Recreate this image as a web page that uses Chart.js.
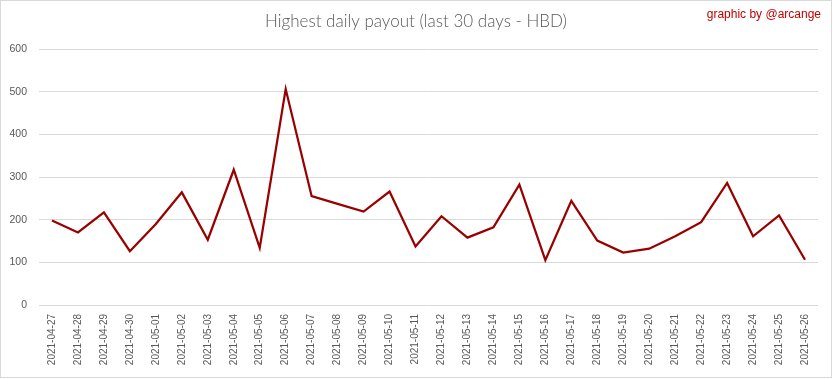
<!DOCTYPE html>
<html>
<head>
<meta charset="utf-8">
<script src="https://cdn.jsdelivr.net/npm/chart.js@4/dist/chart.umd.min.js"></script>
<style>
html,body{margin:0;padding:0;background:#fff;}
#wrap{width:833px;height:379px;position:relative;}
</style>
</head>
<body>
<div id="wrap"><canvas id="c" width="833" height="379"></canvas></div>
<script>
const categories = ["2021-04-27","2021-04-28","2021-04-29","2021-04-30","2021-05-01","2021-05-02","2021-05-03","2021-05-04","2021-05-05","2021-05-06","2021-05-07","2021-05-08","2021-05-09","2021-05-10","2021-05-11","2021-05-12","2021-05-13","2021-05-14","2021-05-15","2021-05-16","2021-05-17","2021-05-18","2021-05-19","2021-05-20","2021-05-21","2021-05-22","2021-05-23","2021-05-24","2021-05-25","2021-05-26"];
const payout = [198,170,217,126,190,264,153,317,134,506,255,237,219,266,137,208,158,182,282,105,244,151,123,132,161,194,286,161,210,106];
const yTicks = [0,100,200,300,400,500,600];
const titleText = "Highest daily payout (last 30 days - HBD)";
const creditText = "graphic by @arcange";

const decor = {
  id: 'decor',
  afterDraw(chart) {
    const ctx = chart.ctx;
    ctx.save();
    ctx.strokeStyle = '#d9d9d9';
    ctx.lineWidth = 1;
    ctx.strokeRect(0.5, 0.5, 831, 377);
    ctx.fillStyle = '#595959';
    ctx.font = '300 17px Lato';
    ctx.textAlign = 'center';
    ctx.textBaseline = 'middle';
    ctx.fillText(titleText, 416, 22);
    ctx.fillStyle = '#c00000';
    ctx.font = '12px "Liberation Sans"';
    ctx.textAlign = 'right';
    ctx.fillText(creditText, 821, 15);
    ctx.restore();
  }
};

new Chart(document.getElementById('c'), {
  type: 'line',
  data: {
    labels: categories,
    datasets: [{
      data: payout,
      borderColor: '#990000',
      borderWidth: 2.25,
      pointRadius: 0,
      tension: 0,
      fill: false
    }]
  },
  options: {
    responsive: false,
    animation: false,
    devicePixelRatio: 1,
    layout: { padding: { top: 49, left: 0, right: 15, bottom: 0 } },
    plugins: { legend: { display: false }, title: { display: false }, tooltip: { enabled: false } },
    scales: {
      x: {
        offset: true,
        grid: { display: false, drawTicks: false },
        border: { display: false },
        ticks: {
          color: '#595959',
          font: { family: 'Liberation Sans', size: 10 },
          minRotation: 90, maxRotation: 90,
          autoSkip: false,
          padding: 9
        },
        afterFit(s) { s.height = 74; }
      },
      y: {
        min: 0, max: 600,
        afterBuildTicks(s) { s.ticks = yTicks.map(v => ({ value: v })); },
        grid: { color: '#d9d9d9', lineWidth: 1, drawTicks: false },
        border: { display: false },
        ticks: {
          color: '#595959',
          font: { family: 'Liberation Sans', size: 10.5 },
          padding: 12
        },
        afterFit(s) { s.width = 39; }
      }
    }
  },
  plugins: [decor]
});
</script>
</body>
</html>
